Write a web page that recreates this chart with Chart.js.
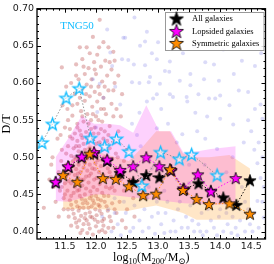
<!DOCTYPE html>
<html>
<head>
<meta charset="utf-8">
<script src="https://cdn.jsdelivr.net/npm/chart.js@4.4.1/dist/chart.umd.min.js"></script>
<style>
html,body{margin:0;padding:0;background:#fff;}
</style>
</head>
<body>
<canvas id="c" width="274" height="264"></canvas>
<script>
// tick labels
const xTicks = [11.5, 12.0, 12.5, 13.0, 13.5, 14.0, 14.5];
const yTicks = [0.40, 0.45, 0.50, 0.55, 0.60, 0.65, 0.70];

// All galaxies
const allX = [11.35, 11.56, 11.77, 11.97, 12.18, 12.39, 12.60, 12.81, 13.02, 13.21, 13.42, 13.65, 13.85, 14.05, 14.26, 14.48];
const allY = [0.466, 0.487, 0.500, 0.505, 0.495, 0.479, 0.467, 0.476, 0.473, 0.482, 0.457, 0.465, 0.455, 0.446, 0.436, 0.469];

// Lopsided galaxies
const lopX = [11.35, 11.55, 11.77, 11.97, 12.18, 12.39, 12.60, 12.81, 13.02, 13.21, 13.41, 13.64, 13.85, 14.25];
const lopY = [0.467, 0.488, 0.501, 0.507, 0.497, 0.483, 0.488, 0.500, 0.488, 0.483, 0.458, 0.477, 0.454, 0.472];
const lopHi = [0.500, 0.525, 0.556, 0.545, 0.545, 0.543, 0.533, 0.570, 0.535, 0.535, 0.506, 0.508, 0.511, 0.515];
const lopLo = [0.441, 0.440, 0.445, 0.450, 0.450, 0.448, 0.446, 0.444, 0.442, 0.440, 0.438, 0.437, 0.436, 0.437];

// Symmetric galaxies
const symX = [11.47, 11.70, 11.90, 12.11, 12.32, 12.53, 12.76, 12.97, 13.19, 13.40, 13.62, 13.82, 14.15, 14.48];
const symY = [0.476, 0.467, 0.505, 0.472, 0.471, 0.461, 0.449, 0.451, 0.484, 0.456, 0.444, 0.437, 0.438, 0.424];
const symHi = [0.490, 0.500, 0.518, 0.505, 0.500, 0.495, 0.515, 0.535, 0.535, 0.505, 0.500, 0.500, 0.503, 0.485];
const symLo = [0.431, 0.430, 0.430, 0.430, 0.428, 0.428, 0.432, 0.435, 0.430, 0.425, 0.416, 0.416, 0.416, 0.417];

// TNG50
const tngX = [11.13, 11.30, 11.52, 11.73, 11.91, 12.14, 12.33, 12.53, 12.74, 13.04, 13.34, 13.54, 13.95];
const tngY = [0.520, 0.545, 0.580, 0.593, 0.526, 0.515, 0.525, 0.508, 0.462, 0.507, 0.498, 0.504, 0.476];

// background galaxies (red cloud)
const redPts = [
[12.06,0.685],[11.74,0.648],[11.45,0.621],[11.95,0.662],[12.12,0.655],[11.85,0.648],[12.2,0.648],[11.9,0.64],[12.02,0.638],[12.28,0.642],
[11.78,0.632],[11.97,0.628],[12.15,0.63],[11.68,0.625],[12.08,0.622],[11.88,0.62],[12.25,0.618],[11.82,0.612],[12.0,0.612],[12.18,0.61],
[11.72,0.605],[11.93,0.605],[12.1,0.602],[11.6,0.6],[11.85,0.598],[12.3,0.6],[12.04,0.595],[11.78,0.592],[11.98,0.588],[12.2,0.59],
[11.66,0.585],[11.9,0.582],[12.12,0.58],[11.82,0.576],[12.02,0.575],[11.7,0.572],[12.25,0.572],[11.94,0.568],[12.08,0.565],[11.76,0.562],
[11.86,0.558],[12.16,0.558],[11.62,0.556],[12.0,0.555],[11.92,0.55],[11.8,0.548],[12.1,0.548],[11.7,0.545],[12.22,0.542],[11.98,0.54],
[11.58,0.538],[11.66,0.532],[11.74,0.536],[11.84,0.534],[11.9,0.53],[12.04,0.532],[12.14,0.535],[11.62,0.525],[11.7,0.522],[11.78,0.526],
[11.87,0.52],[11.95,0.524],[12.06,0.52],[12.18,0.522],[11.55,0.515],[11.64,0.512],[11.73,0.515],[11.82,0.51],[11.9,0.512],[11.99,0.508],
[12.1,0.51],[12.22,0.512],[11.6,0.502],[11.68,0.498],[11.77,0.504],[11.86,0.498],[11.95,0.5],[12.03,0.496],[12.14,0.5],[12.26,0.498],
[11.52,0.49],[11.63,0.488],[11.72,0.49],[11.8,0.486],[11.9,0.49],[11.98,0.484],[12.08,0.488],[12.19,0.485],[11.57,0.478],[11.66,0.476],
[11.75,0.48],[11.84,0.474],[11.92,0.478],[12.01,0.472],[12.12,0.476],[12.24,0.474],[11.6,0.465],[11.7,0.466],[11.78,0.462],[11.88,0.466],
[11.96,0.46],[12.06,0.464],[12.16,0.46],[11.54,0.455],[11.64,0.452],[11.73,0.456],[11.82,0.45],[11.91,0.454],[12.0,0.448],[12.1,0.452],
[12.2,0.448],[11.58,0.442],[11.68,0.44],[11.77,0.444],[11.86,0.438],[11.95,0.442],[12.04,0.436],[12.14,0.44],[12.26,0.438],[11.62,0.43],
[11.72,0.428],[11.8,0.432],[11.9,0.426],[11.99,0.43],[12.09,0.424],[12.19,0.428],[11.56,0.42],[11.66,0.418],[11.76,0.421],[11.85,0.415],
[11.94,0.419],[12.03,0.413],[12.13,0.417],[12.24,0.414],[11.6,0.408],[11.7,0.406],[11.8,0.41],[11.9,0.404],[12.0,0.407],[12.1,0.402],
[12.2,0.405],[11.75,0.398],[11.95,0.396],[12.15,0.399],[11.65,0.5],[11.82,0.492],[11.88,0.505],[11.97,0.47],[12.05,0.48],[11.76,0.47],
[11.84,0.458],[11.94,0.485],[12.02,0.456],[11.7,0.455],[11.79,0.496],[11.9,0.445],[12.08,0.442],[11.74,0.432],[11.93,0.434],[11.83,0.424],
[12.06,0.428],[11.68,0.484],[11.86,0.482],[12.0,0.518],[11.8,0.518],[11.92,0.538],[12.12,0.525],[11.72,0.508],[12.2,0.495],[12.16,0.47],
[11.6,0.448],[11.98,0.416],[11.88,0.41],[12.12,0.408],[11.16,0.432],[11.25,0.47],[11.3,0.5],[11.35,0.44],[11.4,0.48],[11.42,0.455],
[11.45,0.51],[11.48,0.43],[11.5,0.465],[11.44,0.495],[11.38,0.525],[11.5,0.54],[11.46,0.57],[11.52,0.595],[11.4,0.42],[11.32,0.46],
[11.48,0.445],[11.52,0.505],[11.28,0.49],[11.54,0.565],[12.3,0.52],[12.35,0.5],[12.32,0.485],[12.4,0.47],[12.3,0.455],[12.38,0.44],
[12.45,0.455],[12.33,0.425],[12.42,0.415],[12.5,0.43],[12.28,0.405],[12.36,0.535],[12.45,0.495],[12.55,0.47],[12.5,0.51],[12.6,0.445],
[12.4,0.555],[12.33,0.565],[12.48,0.405],[12.62,0.42],[12.28,0.59],[12.36,0.61],[12.42,0.585],[12.3,0.63],
[11.58,0.528],[11.68,0.515],[11.76,0.53],[11.85,0.526],[11.96,0.532],[12.08,0.538],[12.2,0.53],[11.63,0.495],[11.71,0.478],[11.8,0.47],
[11.89,0.475],[11.99,0.492],[12.1,0.496],[12.22,0.48],[11.56,0.468],[11.66,0.46],[11.74,0.448],[11.83,0.442],[11.93,0.448],[12.03,0.444],
[12.13,0.448],[12.22,0.458],[11.6,0.436],[11.7,0.434],[11.79,0.438],[11.88,0.432],[11.97,0.438],[12.06,0.434],[12.17,0.434],[11.64,0.424],
[11.73,0.415],[11.82,0.418],[11.91,0.42],[12.01,0.422],[12.1,0.414],[12.22,0.42],[11.68,0.412],[11.78,0.402],[11.86,0.398],[12.05,0.4],
[11.7,0.54],[11.88,0.545],[12.04,0.55],[11.78,0.555],[11.95,0.558],[12.13,0.565],[11.84,0.585],[12.06,0.585],[11.74,0.58],[11.92,0.595],
[12.14,0.595],[11.68,0.61],[11.98,0.618],[12.22,0.628],[11.8,0.622],[12.05,0.648],[11.62,0.57],[12.28,0.555],[12.32,0.505],[12.26,0.46],
[12.35,0.47],[12.3,0.43],[11.52,0.475],[11.5,0.45],[11.55,0.43],[11.45,0.46],[11.43,0.53],[11.55,0.55]
];

// background galaxies (blue cloud)
const bluePts = [
[12.18,0.672],[12.47,0.661],[12.79,0.656],[12.82,0.669],[12.42,0.632],[12.61,0.625],[12.98,0.632],[13.19,0.629],[13.11,0.616],[12.87,0.608],
[13.35,0.603],[13.52,0.612],[13.74,0.605],[13.98,0.603],[14.22,0.612],[14.56,0.623],[12.26,0.623],[12.31,0.595],[12.82,0.575],[13.19,0.585],
[13.46,0.581],[13.82,0.579],[14.0,0.583],[14.45,0.588],[13.58,0.649],[12.71,0.65],[12.79,0.624],[12.85,0.601],[13.03,0.599],[13.18,0.615],
[12.98,0.585],[13.47,0.575],[13.52,0.597],[13.76,0.628],[13.92,0.579],[14.56,0.565],[12.23,0.641],[12.44,0.661],[12.52,0.631],[12.06,0.599],
[12.02,0.561],[12.39,0.571],[12.58,0.601],[12.92,0.579],[13.24,0.581],[14.65,0.571],[14.68,0.552],[13.79,0.555],[14.0,0.552],[14.21,0.544],
[12.98,0.539],[13.16,0.545],[13.39,0.531],[13.63,0.535],[13.76,0.525],[13.95,0.511],[14.6,0.492],[14.65,0.472],[14.6,0.441],[14.7,0.419],
[13.3,0.66],[14.05,0.645],[14.35,0.63],[14.66,0.64],[13.9,0.625],[12.62,0.688],[13.0,0.655],[14.3,0.59],[14.15,0.57],[13.6,0.56],
[12.7,0.56],[12.58,0.545],[12.66,0.53],[12.72,0.515],[14.45,0.55],[14.38,0.52],[14.55,0.51],[14.68,0.5],[12.12,0.58],[11.95,0.605],
[12.0,0.54],[11.88,0.52],[12.65,0.49],[12.9,0.485],[13.3,0.47],[13.5,0.49],[13.75,0.49],[14.1,0.48],[14.35,0.46],[12.85,0.46],
[13.1,0.455],[13.5,0.465],[14.4,0.44],[12.45,0.48],[12.3,0.445],[12.2,0.43],[12.35,0.41],[12.48,0.425],[12.55,0.4],[12.62,0.435],
[12.7,0.415],[12.78,0.43],[12.85,0.405],[12.9,0.42],[12.98,0.44],[13.05,0.41],[13.12,0.425],[13.2,0.4],[13.25,0.415],[13.32,0.43],
[13.38,0.405],[13.45,0.42],[13.52,0.435],[13.58,0.4],[13.65,0.41],[13.7,0.425],[13.78,0.4],[13.85,0.415],[13.9,0.405],[13.98,0.42],
[14.05,0.4],[14.12,0.41],[14.18,0.398],[14.25,0.405],[14.32,0.415],[14.4,0.4],[14.48,0.41],[14.55,0.425],[14.62,0.405],[12.4,0.395],
[12.95,0.397],[13.72,0.395],[14.0,0.43],[12.1,0.42],[12.25,0.4],[13.15,0.44],[13.62,0.445],
[12.3,0.425],[12.45,0.44],[12.6,0.405],[12.75,0.4],[12.82,0.445],[13.0,0.425],[13.1,0.398],[13.28,0.4],[13.35,0.44],[13.48,0.405],
[13.55,0.415],[13.68,0.4],[13.8,0.43],[13.95,0.395],[14.1,0.425],[14.2,0.42],[14.28,0.395],[14.45,0.43],[14.52,0.4],[14.68,0.44],
[14.7,0.46],[14.62,0.52],[14.5,0.535],[14.2,0.5],[13.3,0.52],[12.7,0.6],[12.9,0.64],[13.4,0.64],[13.7,0.665],[14.4,0.67],
[13.05,0.565],[13.65,0.585]
];

const pts = (xs, ys) => xs.map((x, i) => ({ x: x, y: ys[i] }));

// filled five point star as point image
function starImg(R, fill, stroke, lw) {
    const s = Math.ceil(2 * R + lw + 2);
    const c = document.createElement('canvas');
    c.width = s; c.height = s;
    const g = c.getContext('2d');
    g.translate(s / 2, s / 2 + R * 0.1);
    g.beginPath();
    for (let i = 0; i < 10; i++) {
        const r = i % 2 ? R * 0.4 : R;
        const a = -Math.PI / 2 + i * Math.PI / 5;
        g.lineTo(r * Math.cos(a), r * Math.sin(a));
    }
    g.closePath();
    g.fillStyle = fill; g.fill();
    g.lineJoin = 'miter';
    g.strokeStyle = stroke; g.lineWidth = lw; g.stroke();
    return c;
}

const cMag = '#ff00ff', cOra = '#ff8c00', cCyan = '#10bcff';
const stBlack = starImg(6.4, '#000', '#000', 0.8);
const stMag = starImg(6.4, cMag, '#000', 0.8);
const stOra = starImg(6.4, cOra, '#000', 0.8);
const stTng = starImg(6.4, 'rgba(255,255,255,0.55)', cCyan, 1.3);
const lgBlack = starImg(7.4, '#000', '#000', 0.8);
const lgMag = starImg(7.4, cMag, '#000', 0.8);
const lgOra = starImg(7.4, cOra, '#000', 0.8);

const serif = '"Liberation Serif", "DejaVu Serif", serif';

const decor = {
    id: 'decor',
    afterDraw(chart) {
        const { ctx, chartArea: a, scales: { x, y } } = chart;
        ctx.save();
        // inward ticks
        ctx.strokeStyle = '#000';
        ctx.lineWidth = 1;
        ctx.beginPath();
        for (let k = 111; k <= 147; k++) {
            const v = k / 10;
            const px = Math.round(x.getPixelForValue(v)) + 0.5;
            const L = (k % 5 === 0) ? 4 : 2;
            ctx.moveTo(px, a.bottom); ctx.lineTo(px, a.bottom - L);
            ctx.moveTo(px, a.top); ctx.lineTo(px, a.top + L);
        }
        for (let k = 40; k <= 70; k++) {
            const py = Math.round(y.getPixelForValue(k / 100)) + 0.5;
            const L = (k % 5 === 0) ? 4 : 2;
            ctx.moveTo(a.left, py); ctx.lineTo(a.left + L, py);
            ctx.moveTo(a.right, py); ctx.lineTo(a.right - L, py);
        }
        ctx.stroke();
        ctx.lineWidth = 1.3;
        ctx.strokeRect(a.left, a.top, a.right - a.left, a.bottom - a.top);

        // TNG50 label
        ctx.fillStyle = cCyan;
        ctx.font = '11px ' + serif;
        ctx.textAlign = 'center';
        ctx.textBaseline = 'middle';
        ctx.fillText('TNG50', 77, 26);

        // legend
        ctx.fillStyle = 'rgba(255,255,255,0.85)';
        ctx.fillRect(165, 12, 99, 38.5);
        ctx.strokeStyle = '#999';
        ctx.lineWidth = 1;
        ctx.strokeRect(165.5, 12.5, 98.5, 38);
        const items = [[lgBlack, 'All galaxies', 18.5], [lgMag, 'Lopsided galaxies', 31], [lgOra, 'Symmetric galaxies', 43]];
        ctx.font = '8.5px ' + serif;
        ctx.fillStyle = '#000';
        ctx.textAlign = 'left';
        for (const [img, t, yy] of items) {
            ctx.drawImage(img, 176.5 - img.width / 2, yy - img.height / 2);
            ctx.fillText(t, 192, yy + 0.5);
        }

        // x title with subscripts
        const parts = [['log', 0], ['10', 1], ['(M', 0], ['200', 1], ['/M', 0], ['\u2299', 1], [')', 0]];
        const fMain = '12px ' + serif, fSub = '8.5px ' + serif;
        let w = 0;
        for (const [t, s] of parts) { ctx.font = s ? fSub : fMain; w += ctx.measureText(t).width; }
        let cx = (a.left + a.right) / 2 - w / 2;
        ctx.textBaseline = 'alphabetic';
        for (const [t, s] of parts) {
            ctx.font = s ? fSub : fMain;
            ctx.fillText(t, cx, s ? 263.5 : 261);
            cx += ctx.measureText(t).width;
        }
        ctx.restore();
    }
};

const lineDs = (label, xs, ys, img, lineColor, order) => ({
    type: 'line', label: label, data: pts(xs, ys), order: order,
    borderColor: lineColor, borderWidth: 0.9, borderDash: [1.5, 1.8],
    pointStyle: img, pointRadius: 6, fill: false, tension: 0
});

const bandDs = (xs, ys, color, fill, order) => ({
    type: 'line', data: pts(xs, ys), order: order,
    borderWidth: 0, pointRadius: 0, backgroundColor: color, fill: fill, tension: 0
});

new Chart(document.getElementById('c'), {
    type: 'scatter',
    data: {
        datasets: [
            lineDs('TNG50', tngX, tngY, stTng, '#8a8a8a', 0),
            lineDs('Symmetric galaxies', symX, symY, stOra, cOra, 1),
            lineDs('Lopsided galaxies', lopX, lopY, stMag, cMag, 2),
            lineDs('All galaxies', allX, allY, stBlack, '#000', 3),
            bandDs(lopX, lopHi, 'rgba(245,0,245,0.18)', '+1', 5),
            bandDs(lopX, lopLo, 'rgba(0,0,0,0)', false, 5),
            bandDs(symX, symHi, 'rgba(255,140,0,0.22)', '+1', 6),
            bandDs(symX, symLo, 'rgba(0,0,0,0)', false, 6),
            { data: bluePts.map(p => ({ x: p[0], y: p[1] })), order: 8, pointRadius: 2, borderWidth: 0, backgroundColor: 'rgba(90,90,225,0.22)' },
            { data: redPts.map(p => ({ x: p[0], y: p[1] })), order: 9, pointRadius: 2.1, borderWidth: 0, backgroundColor: 'rgba(175,40,40,0.3)' }
        ]
    },
    options: {
        responsive: false,
        animation: false,
        events: [],
        devicePixelRatio: 1,
        layout: { padding: { left: 0, top: 7, right: 8.5, bottom: 0 } },
        plugins: { legend: { display: false }, tooltip: { enabled: false } },
        scales: {
            x: {
                type: 'linear', min: 11.05, max: 14.73,
                grid: { display: false, drawTicks: false },
                border: { display: false },
                afterBuildTicks: s => { s.ticks = xTicks.map(v => ({ value: v })); },
                afterFit: s => { s.height = 25; },
                ticks: { color: '#1a1a1a', padding: 2, maxRotation: 0, autoSkip: false,
                    font: { family: 'DejaVu Sans', size: 9.5 }, callback: v => v.toFixed(1) }
            },
            y: {
                type: 'linear', min: 0.39, max: 0.70,
                grid: { display: false, drawTicks: false },
                border: { display: false },
                afterBuildTicks: s => { s.ticks = yTicks.map(v => ({ value: v })); },
                afterFit: s => { s.width = 37; },
                title: { display: true, text: 'D/T', color: '#000', padding: { top: 0, bottom: 0 },
                    font: { family: 'Liberation Serif', size: 12 } },
                ticks: { color: '#1a1a1a', padding: 3,
                    font: { family: 'DejaVu Sans', size: 9.5 }, callback: v => v.toFixed(2) }
            }
        }
    },
    plugins: [decor]
});
</script>
</body>
</html>
